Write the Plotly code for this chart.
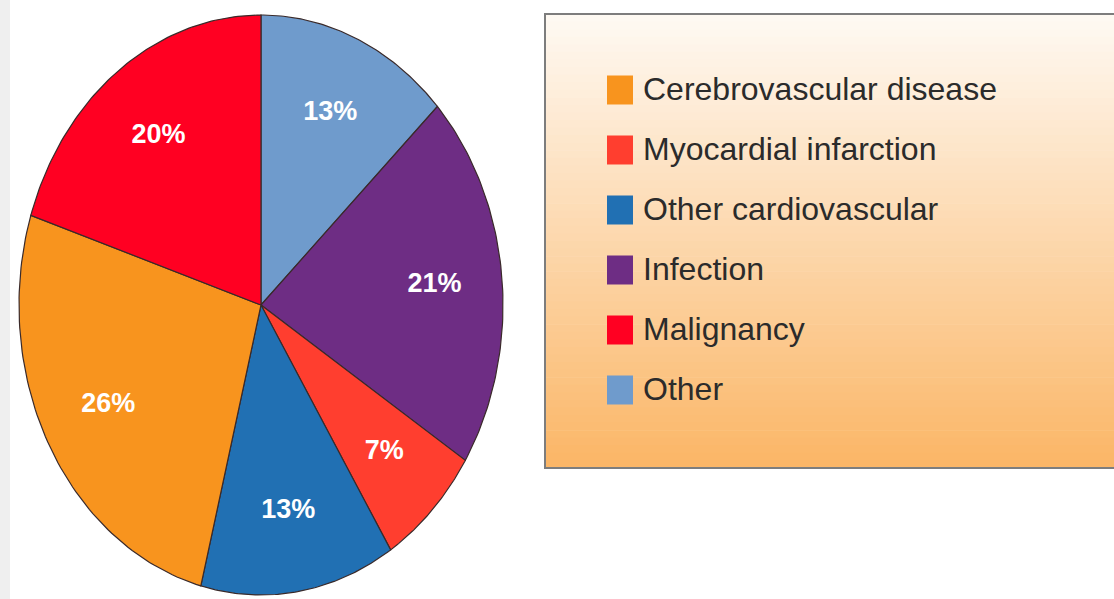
import numpy as np
import plotly.graph_objects as go

# ---- data (clockwise from 12 o'clock) ----
pie_categories = ["Other", "Infection", "Myocardial infarction",
                  "Other cardiovascular", "Cerebrovascular disease", "Malignancy"]
pie_values = [13, 21, 7, 13, 26, 20]
pie_colors = ["#6f9bcc", "#6e2d84", "#ff3e2f", "#2170b3", "#f8941e", "#ff0022"]

legend_order = ["Cerebrovascular disease", "Myocardial infarction", "Other cardiovascular",
                "Infection", "Malignancy", "Other"]

W, H = 1114, 599
CX, CY, RX, RY = 261, 305, 242, 290  # pixel placement of pie

fig = go.Figure()

total = float(sum(pie_values))
start = 0.0
label_x, label_y, label_t = [], [], []
for cat, val, col in zip(pie_categories, pie_values, pie_colors):
    frac = val / total
    t = np.linspace(start, start + frac, 80) * 2 * np.pi
    xs = np.concatenate([[0], np.sin(t), [0]])
    ys = np.concatenate([[0], np.cos(t), [0]])
    fig.add_trace(go.Scatter(x=xs, y=ys, mode="lines", fill="toself",
                             fillcolor=col, line=dict(color="#3a2a2a", width=1.2),
                             name=cat, showlegend=False, hoverinfo="skip"))
    mid = (start + frac / 2) * 2 * np.pi
    label_x.append(0.72 * np.sin(mid))
    label_y.append(0.72 * np.cos(mid))
    label_t.append(f"{val}%")
    start += frac

fig.add_trace(go.Scatter(x=label_x, y=label_y, mode="text", text=label_t,
                         textfont=dict(color="white", size=27,
                                       family="Liberation Sans, Arial, sans-serif",
                                       weight="bold"),
                         showlegend=False, hoverinfo="skip"))

shapes = []
# left gray strip
shapes.append(dict(type="rect", xref="paper", yref="paper", x0=0, x1=10 / W, y0=0, y1=1,
                   fillcolor="#efefef", line=dict(width=0), layer="below"))

# legend box with vertical gradient
bx0, bx1, by0, by1 = 545, 1114, 14, 468
top_rgb = np.array([255, 250, 244])
bot_rgb = np.array([251, 182, 102])
n = 60
for i in range(n):
    f = (i + 0.5) / n
    c = (top_rgb * (1 - f) + bot_rgb * f).astype(int)
    ya = by0 + (by1 - by0) * i / n
    yb = by0 + (by1 - by0) * (i + 1) / n + 0.6
    shapes.append(dict(type="rect", xref="paper", yref="paper",
                       x0=bx0 / W, x1=bx1 / W, y0=1 - yb / H, y1=1 - ya / H,
                       fillcolor=f"rgb({c[0]},{c[1]},{c[2]})", line=dict(width=0), layer="below"))
shapes.append(dict(type="rect", xref="paper", yref="paper",
                   x0=bx0 / W, x1=(bx1 + 5) / W, y0=1 - by1 / H, y1=1 - by0 / H,
                   fillcolor="rgba(0,0,0,0)", line=dict(color="#7d7d7d", width=2), layer="below"))

annotations = []
color_of = dict(zip(pie_categories, pie_colors))
for k, cat in enumerate(legend_order):
    yc = 90 + 60 * k
    shapes.append(dict(type="rect", xref="paper", yref="paper",
                       x0=607 / W, x1=633 / W, y0=1 - (yc + 14.5) / H, y1=1 - (yc - 14.5) / H,
                       fillcolor=color_of[cat], line=dict(width=0)))
    annotations.append(dict(xref="paper", yref="paper", x=641 / W, y=1 - (yc - 1) / H,
                            text=cat, showarrow=False, xanchor="left", yanchor="middle",
                            font=dict(size=32, color="#2b2b2b",
                                      family="Liberation Sans, Arial, sans-serif")))

fig.update_layout(
    width=W, height=H,
    margin=dict(l=0, r=0, t=0, b=0),
    paper_bgcolor="white", plot_bgcolor="rgba(0,0,0,0)",
    xaxis=dict(range=[-CX / RX, (W - CX) / RX], visible=False, fixedrange=True),
    yaxis=dict(range=[-(H - CY) / RY, CY / RY], visible=False, fixedrange=True),
    shapes=shapes, annotations=annotations, showlegend=False,
)

fig.write_html("out.html", config={"displayModeBar": False},
               post_script="document.body.style.margin='0';document.body.style.overflow='hidden';")
